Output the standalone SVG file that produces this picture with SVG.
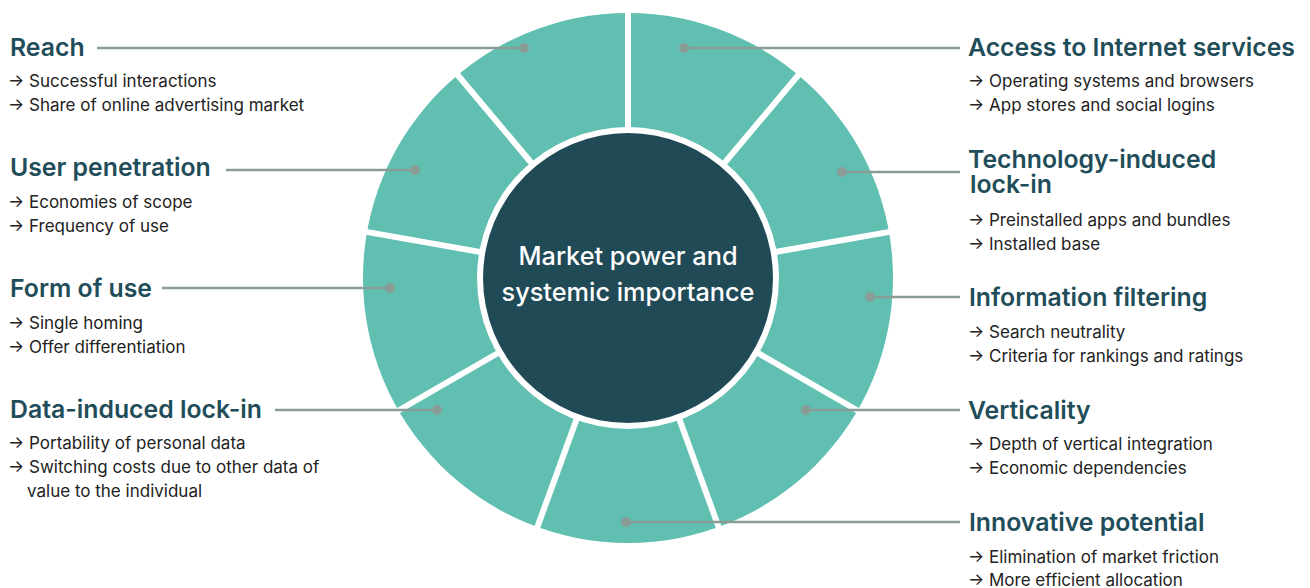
<svg xmlns="http://www.w3.org/2000/svg" width="1310" height="588" viewBox="0 0 1310 588">
<style>
.t{font-family:Inter,"Noto Sans","Liberation Sans",sans-serif;font-weight:600;font-size:24.8px;fill:#1f4d59}
.b{font-family:Inter,"Noto Sans","Liberation Sans",sans-serif;font-weight:400;font-size:17px;fill:#222}
.c{font-family:Inter,"Noto Sans","Liberation Sans",sans-serif;font-weight:500;font-size:25.3px;fill:#fff;text-anchor:middle}
.ln{stroke:#8a9c96;stroke-width:2.5;fill:none}
.dot{fill:#8a9c96}
.sep{stroke:#fff;stroke-width:6}
</style>
<rect width="1310" height="588" fill="#fff"/>
<g id="wheel">
<circle cx="628" cy="278" r="265" fill="#60bfb0"/>
<g transform="translate(628 278)">
<line class="sep" x1="0" y1="0" x2="0" y2="-280"/>
<line class="sep" x1="0" y1="0" x2="0" y2="-280" transform="rotate(40)"/>
<line class="sep" x1="0" y1="0" x2="0" y2="-280" transform="rotate(80)"/>
<line class="sep" x1="0" y1="0" x2="0" y2="-280" transform="rotate(120)"/>
<line class="sep" x1="0" y1="0" x2="0" y2="-280" transform="rotate(160)"/>
<line class="sep" x1="0" y1="0" x2="0" y2="-280" transform="rotate(200)"/>
<line class="sep" x1="0" y1="0" x2="0" y2="-280" transform="rotate(240)"/>
<line class="sep" x1="0" y1="0" x2="0" y2="-280" transform="rotate(280)"/>
<line class="sep" x1="0" y1="0" x2="0" y2="-280" transform="rotate(320)"/>
</g>
<circle cx="628" cy="278" r="151" fill="#fff"/>
</g>
<g id="center">
<circle cx="628" cy="278" r="145" fill="#214a57"/>
<text class="c" x="628" y="265">Market power and</text>
<text class="c" x="628" y="301">systemic importance</text>
</g>
<g id="connectors">
<line class="ln" x1="97" y1="48" x2="524" y2="48"/><circle class="dot" cx="524" cy="48" r="5"/>
<line class="ln" x1="684" y1="48" x2="960" y2="48"/><circle class="dot" cx="684" cy="48" r="5"/>
<line class="ln" x1="226" y1="170" x2="415" y2="170"/><circle class="dot" cx="415" cy="170" r="5"/>
<line class="ln" x1="842" y1="172" x2="960" y2="172"/><circle class="dot" cx="842" cy="172" r="5"/>
<line class="ln" x1="162" y1="288" x2="390" y2="288"/><circle class="dot" cx="390" cy="288" r="5"/>
<line class="ln" x1="870" y1="297" x2="960" y2="297"/><circle class="dot" cx="870" cy="297" r="5"/>
<line class="ln" x1="275" y1="410" x2="437" y2="410"/><circle class="dot" cx="437" cy="410" r="5"/>
<line class="ln" x1="806" y1="410" x2="960" y2="410"/><circle class="dot" cx="806" cy="410" r="5"/>
<line class="ln" x1="626" y1="522" x2="960" y2="522"/><circle class="dot" cx="626" cy="522" r="5"/>
</g>
<g id="reach">
<text class="t" x="10" y="56">Reach</text>
<text class="b" x="8" y="87">→ Successful interactions</text>
<text class="b" x="8" y="111">→ Share of online advertising market</text>
</g>
<g id="user-penetration">
<text class="t" x="10" y="176">User penetration</text>
<text class="b" x="8" y="208">→ Economies of scope</text>
<text class="b" x="8" y="232">→ Frequency of use</text>
</g>
<g id="form-of-use">
<text class="t" x="10" y="297">Form of use</text>
<text class="b" x="8" y="329">→ Single homing</text>
<text class="b" x="8" y="353">→ Offer differentiation</text>
</g>
<g id="data-lock-in">
<text class="t" x="10" y="418">Data-induced lock-in</text>
<text class="b" x="8" y="449">→ Portability of personal data</text>
<text class="b" x="8" y="473">→ Switching costs due to other data of</text>
<text class="b" x="27" y="497">value to the individual</text>
</g>
<g id="access">
<text class="t" x="968" y="56">Access to Internet services</text>
<text class="b" x="968" y="87">→ Operating systems and browsers</text>
<text class="b" x="968" y="111">→ App stores and social logins</text>
</g>
<g id="tech-lock-in">
<text class="t" x="968" y="168">Technology-induced<tspan x="970" y="193">lock-in</tspan></text>
<text class="b" x="968" y="226">→ Preinstalled apps and bundles</text>
<text class="b" x="968" y="250">→ Installed base</text>
</g>
<g id="info-filtering">
<text class="t" x="969" y="306">Information filtering</text>
<text class="b" x="968" y="338">→ Search neutrality</text>
<text class="b" x="968" y="362">→ Criteria for rankings and ratings</text>
</g>
<g id="verticality">
<text class="t" x="968" y="419">Verticality</text>
<text class="b" x="968" y="450">→ Depth of vertical integration</text>
<text class="b" x="968" y="474">→ Economic dependencies</text>
</g>
<g id="innovative">
<text class="t" x="969" y="531">Innovative potential</text>
<text class="b" x="968" y="563">→ Elimination of market friction</text>
<text class="b" x="968" y="586">→ More efficient allocation</text>
</g>
</svg>
